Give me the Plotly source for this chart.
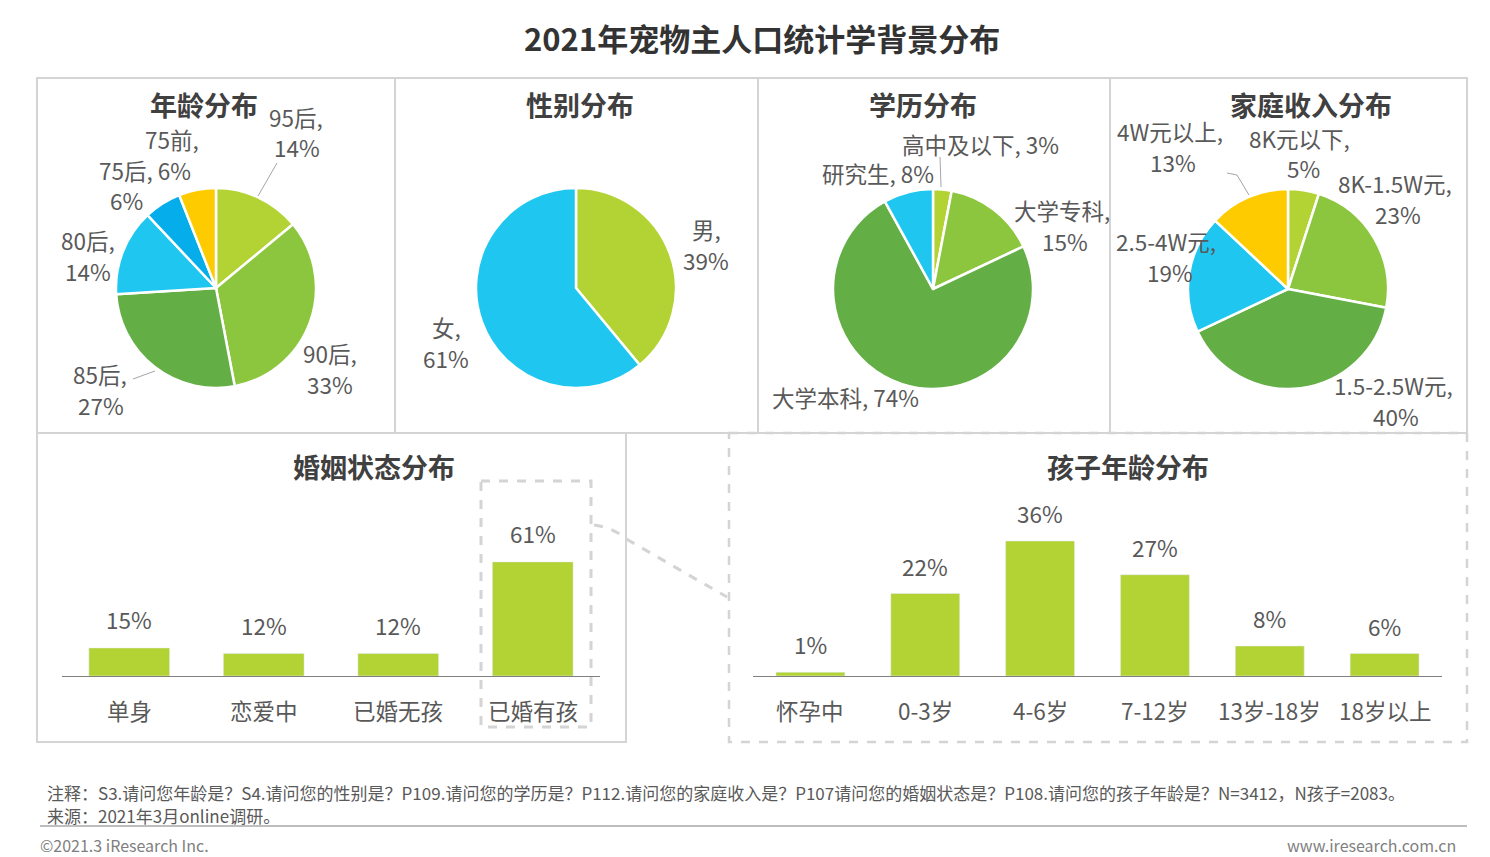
import plotly.graph_objects as go

W, H = 1490, 857
FONT = "Noto Sans CJK SC"
LABEL_C = "#595959"
TITLE_C = "#404040"
LS = 22.5  # label font size

# ---------------- data ----------------
main_title = "2021年宠物主人口统计学背景分布"
panel_titles = ["年龄分布", "性别分布", "学历分布", "家庭收入分布", "婚姻状态分布", "孩子年龄分布"]

age_labels = ["95后", "90后", "85后", "80后", "75后", "75前"]
age_values = [14, 33, 27, 14, 6, 6]
age_colors = ["#b3d335", "#8cc63f", "#64ae46", "#1fc7f0", "#05adea", "#fecb00"]

gender_labels = ["男", "女"]
gender_values = [39, 61]
gender_colors = ["#b3d335", "#1fc7f0"]

edu_labels = ["高中及以下", "大学专科", "大学本科", "研究生"]
edu_values = [3, 15, 74, 8]
edu_colors = ["#b3d335", "#8cc63f", "#64ae46", "#1fc7f0"]

income_labels = ["8K元以下", "8K-1.5W元", "1.5-2.5W元", "2.5-4W元", "4W元以上"]
income_values = [5, 23, 40, 19, 13]
income_colors = ["#b3d335", "#8cc63f", "#64ae46", "#1fc7f0", "#fecb00"]

marital_labels = ["单身", "恋爱中", "已婚无孩", "已婚有孩"]
marital_values = [15, 12, 12, 61]

kids_labels = ["怀孕中", "0-3岁", "4-6岁", "7-12岁", "13岁-18岁", "18岁以上"]
kids_values = [1, 22, 36, 27, 8, 6]

bar_color = "#b3d234"

note_text = ("注释：S3.请问您年龄是？S4.请问您的性别是？P109.请问您的学历是？P112.请问您的家庭收入是？"
             "P107请问您的婚姻状态是？P108.请问您的孩子年龄是？N=3412，N孩子=2083。")
source_text = "来源：2021年3月online调研。"
copyright_text = "©2021.3 iResearch Inc."
site_text = "www.iresearch.com.cn"


# ---------------- helpers ----------------
def px(x):
    return x / W


def py(y):
    return 1 - y / H


def pie_domain(cx, cy, r):
    return dict(x=[px(cx - r), px(cx + r)], y=[py(cy + r), py(cy - r)])


annotations = []
shapes = []


def ann(text, x, y, size=LS, color=LABEL_C, bold=False, xanchor="center", yanchor="middle"):
    annotations.append(dict(
        text=f"<b>{text}</b>" if bold else text,
        x=px(x), y=py(y), xref="paper", yref="paper",
        xanchor=xanchor, yanchor=yanchor, showarrow=False,
        font=dict(family=FONT, size=size, color=color)))


def line(x0, y0, x1, y1, color="#a6a6a6", width=1, dash=None):
    shapes.append(dict(type="line", xref="paper", yref="paper",
                       x0=px(x0), y0=py(y0), x1=px(x1), y1=py(y1),
                       line=dict(color=color, width=width, dash=dash)))


def rect(x0, y0, x1, y1, color="#d4d4d4", width=2, dash=None):
    shapes.append(dict(type="rect", xref="paper", yref="paper",
                       x0=px(x0), y0=py(y0), x1=px(x1), y1=py(y1),
                       line=dict(color=color, width=width, dash=dash),
                       fillcolor="rgba(0,0,0,0)"))


fig = go.Figure()


def add_pie(labels, values, colors, cx, cy, r):
    fig.add_trace(go.Pie(
        labels=labels, values=values, sort=False, direction="clockwise", rotation=0,
        marker=dict(colors=colors, line=dict(color="white", width=2.5)),
        textinfo="none", showlegend=False, domain=pie_domain(cx, cy, r)))


add_pie(age_labels, age_values, age_colors, 216, 288, 100)
add_pie(gender_labels, gender_values, gender_colors, 576, 288, 100)
add_pie(edu_labels, edu_values, edu_colors, 933, 289, 100)
add_pie(income_labels, income_values, income_colors, 1288, 289, 100)

# bars
fig.add_trace(go.Bar(x=marital_labels, y=marital_values, marker=dict(color=bar_color),
                     width=0.6, xaxis="x", yaxis="y", showlegend=False))
fig.add_trace(go.Bar(x=kids_labels, y=kids_values, marker=dict(color=bar_color),
                     width=0.6, xaxis="x2", yaxis="y2", showlegend=False))

# ---------------- panels ----------------
rect(37, 78, 395, 433)
rect(395, 78, 758, 433)
rect(758, 78, 1110, 433)
rect(1110, 78, 1467, 433)
rect(37, 433, 626, 742)
rect(729, 433, 1467, 742, dash="dash", width=2.5)
rect(481, 481, 591, 727, dash="dash", width=3)
shapes.append(dict(type="path", xref="paper", yref="paper",
                   path=f"M {px(594)},{py(525)} Q {px(612)},{py(527)} {px(628)},{py(540)} L {px(727)},{py(597)}",
                   line=dict(color="#d4d4d4", width=3, dash="dash")))

# titles
ann(main_title, 762, 38, size=31, color="#333333", bold=True)
ann(panel_titles[0], 204, 105, size=27, color=TITLE_C, bold=True)
ann(panel_titles[1], 580, 105, size=27, color=TITLE_C, bold=True)
ann(panel_titles[2], 923, 105, size=27, color=TITLE_C, bold=True)
ann(panel_titles[3], 1311, 105, size=27, color=TITLE_C, bold=True)
ann(panel_titles[4], 374, 466, size=27, color=TITLE_C, bold=True)
ann(panel_titles[5], 1128, 466, size=27, color=TITLE_C, bold=True)

# age labels
ann(f"{age_labels[0]},", 296, 117)
ann(f"{age_values[0]}%", 297, 147)
line(258, 196, 277, 163)
ann(f"{age_labels[1]},", 330, 353)
ann(f"{age_values[1]}%", 330, 384)
ann(f"{age_labels[2]},", 100, 374)
ann(f"{age_values[2]}%", 101, 405)
line(133, 379, 155, 371)
ann(f"{age_labels[3]},", 88, 240)
ann(f"{age_values[3]}%", 88, 271)
ann(f"{age_labels[5]},", 172, 139)
ann(f"{age_labels[4]}, {age_values[4]}%", 145, 170)
ann(f"{age_values[5]}%", 126, 200)

# gender labels
ann(f"{gender_labels[0]},", 706, 229)
ann(f"{gender_values[0]}%", 706, 260)
ann(f"{gender_labels[1]},", 446, 327)
ann(f"{gender_values[1]}%", 446, 358)

# education labels
ann(f"{edu_labels[0]}, {edu_values[0]}%", 980, 144)
line(940, 157, 941, 187)
ann(f"{edu_labels[1]},", 1062, 210)
ann(f"{edu_values[1]}%", 1065, 241)
ann(f"{edu_labels[2]}, {edu_values[2]}%", 845, 397)
ann(f"{edu_labels[3]}, {edu_values[3]}%", 878, 173)

# income labels
ann(f"{income_labels[4]},", 1170, 131)
ann(f"{income_values[4]}%", 1173, 162)
line(1227, 173, 1237, 175)
line(1237, 175, 1249, 195)
ann(f"{income_labels[0]},", 1299, 138)
ann(f"{income_values[0]}%", 1303, 168)
ann(f"{income_labels[1]},", 1395, 183)
ann(f"{income_values[1]}%", 1398, 214)
ann(f"{income_labels[3]},", 1166, 241)
ann(f"{income_values[3]}%", 1170, 272)
ann(f"{income_labels[2]},", 1393, 385)
ann(f"{income_values[2]}%", 1396, 416)

# bar value labels & category labels
for lab, v in zip(marital_labels, marital_values):
    annotations.append(dict(text=f"{v}%", x=lab, y=v, xref="x", yref="y", yanchor="middle",
                            yshift=29, showarrow=False, font=dict(family=FONT, size=LS, color=LABEL_C)))
    annotations.append(dict(text=lab, x=lab, y=py(710), xref="x", yref="paper", yanchor="middle",
                            showarrow=False, font=dict(family=FONT, size=LS, color=LABEL_C)))
for lab, v in zip(kids_labels, kids_values):
    annotations.append(dict(text=f"{v}%", x=lab, y=v, xref="x2", yref="y2", yanchor="middle",
                            yshift=28, showarrow=False, font=dict(family=FONT, size=LS, color=LABEL_C)))
    annotations.append(dict(text=lab, x=lab, y=py(710), xref="x2", yref="paper", yanchor="middle",
                            showarrow=False, font=dict(family=FONT, size=LS, color=LABEL_C)))

# footer
ann(note_text, 45, 792, size=17, color=LABEL_C, xanchor="left")
ann(source_text, 45, 815, size=17, color=LABEL_C, xanchor="left")
line(40, 826, 1467, 826, color="#7f7f7f", width=1)
ann(copyright_text, 38, 845, size=16, color="#7f7f7f", xanchor="left")
ann(site_text, 1458, 845, size=16, color="#7f7f7f", xanchor="right")

m_ppp = 1.87   # pixels per percent, marital
k_ppp = 3.75   # pixels per percent, kids
m_top = 65
k_top = 40

fig.update_layout(
    width=W, height=H,
    margin=dict(l=0, r=0, t=0, b=0),
    paper_bgcolor="white", plot_bgcolor="rgba(0,0,0,0)",
    font=dict(family=FONT),
    showlegend=False,
    xaxis=dict(domain=[px(62), px(600)], showline=True, linecolor="#808080", linewidth=1,
               showticklabels=False, ticks="", showgrid=False, zeroline=False, fixedrange=True),
    yaxis=dict(domain=[py(676), py(676 - m_ppp * m_top)], range=[0, m_top], visible=False,
               showgrid=False, fixedrange=True),
    xaxis2=dict(domain=[px(753), px(1442)], showline=True, linecolor="#808080", linewidth=1,
                showticklabels=False, ticks="", showgrid=False, zeroline=False, anchor="y2",
                fixedrange=True),
    yaxis2=dict(domain=[py(676), py(676 - k_ppp * k_top)], range=[0, k_top], visible=False,
                showgrid=False, anchor="x2", fixedrange=True),
    annotations=annotations,
    shapes=shapes,
)

fig.write_html("out.html", config={"displayModeBar": False},
               post_script="document.body.style.margin='0';document.body.style.overflow='hidden';")
